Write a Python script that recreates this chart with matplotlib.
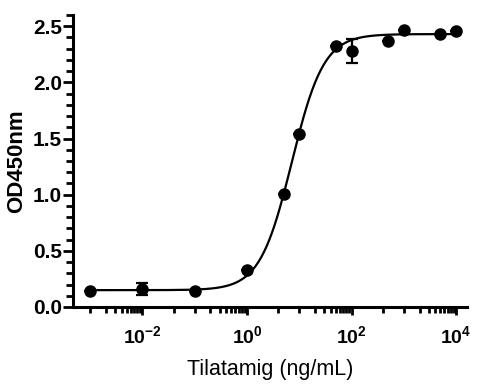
import numpy as np
import matplotlib
matplotlib.use("Agg")
import matplotlib.pyplot as plt
from matplotlib.ticker import FixedLocator, NullFormatter, MultipleLocator, FormatStrFormatter

plt.rcParams['font.family'] = ['Liberation Sans', 'DejaVu Sans']
plt.rcParams['mathtext.fontset'] = 'custom'
plt.rcParams['mathtext.rm'] = 'Liberation Sans:bold'
plt.rcParams['mathtext.it'] = 'Liberation Sans:bold'
plt.rcParams['mathtext.bf'] = 'Liberation Sans:bold'

# Data
conc = [0.001, 0.01, 0.1, 1, 5, 10, 50, 100, 500, 1000, 5000, 10000]
od450 = [0.14, 0.16, 0.14, 0.33, 1.01, 1.54, 2.32, 2.28, 2.37, 2.47, 2.43, 2.46]
od_err = [0.0, 0.05, 0.0, 0.0, 0.0, 0.0, 0.0, 0.11, 0.0, 0.0, 0.0, 0.0]

# 4PL fit parameters
fit_bottom = 0.15
fit_top = 2.43
fit_ec50 = 7.2
fit_hill = 1.42

xtick_vals = [1e-2, 1e0, 1e2, 1e4]
xtick_labels = [r'$10^{-2}$', r'$10^{0}$', r'$10^{2}$', r'$10^{4}$']

fig = plt.figure(figsize=(4.88, 3.90), dpi=100)
ax = fig.add_axes([73/488, 1-307/390, (467-73)/488, (307-15)/390])

xs = np.logspace(-3, 4, 400)
ys = fit_bottom + (fit_top - fit_bottom) / (1 + (fit_ec50 / xs) ** fit_hill)
ax.plot(xs, ys, color='black', lw=1.6, zorder=2)

ax.errorbar(conc, od450, yerr=od_err, fmt='o', color='black', ms=8,
            capsize=4, capthick=1.6, elinewidth=1.6, zorder=3)

ax.set_xscale('log')
ax.set_xlim(10**-3.33, 10**4.21)
ax.set_ylim(0, 2.6)

ax.xaxis.set_major_locator(FixedLocator(xtick_vals))
ax.set_xticklabels(xtick_labels)
minor = []
for k in range(-4, 4, 2):
    minor.append(4 * 10.0**k)
    for m in range(1, 10):
        minor.append(m * 10.0**(k + 1))
ax.xaxis.set_minor_locator(FixedLocator(minor))
ax.xaxis.set_minor_formatter(NullFormatter())

ax.yaxis.set_major_locator(MultipleLocator(0.5))
ax.yaxis.set_minor_locator(MultipleLocator(0.1))
ax.yaxis.set_major_formatter(FormatStrFormatter('%.1f'))

for s in ['top', 'right']:
    ax.spines[s].set_visible(False)
for s in ['left', 'bottom']:
    ax.spines[s].set_linewidth(2.2)

ax.tick_params(axis='y', which='major', length=7, width=2.0, pad=1, labelsize=15)
ax.tick_params(axis='y', which='minor', length=5, width=2.0)
ax.tick_params(axis='x', which='major', length=6, width=2.0, pad=7, labelsize=14)
ax.tick_params(axis='x', which='minor', length=4, width=2.0)
for lab in ax.get_yticklabels():
    lab.set_fontweight('bold')

ax.set_ylabel('OD450nm', fontsize=16, fontweight='bold', labelpad=4)
ax.set_xlabel('Tilatamig (ng/mL)', fontsize=15.5, labelpad=9)

fig.savefig('out.png', dpi=100)
